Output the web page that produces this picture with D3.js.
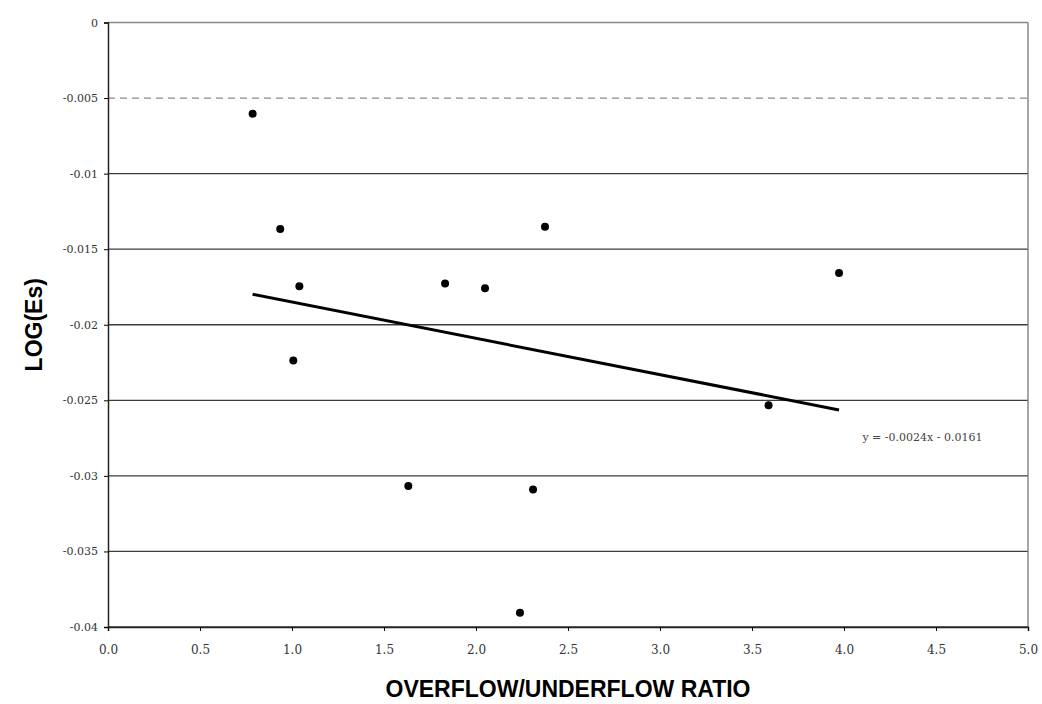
<!DOCTYPE html>
<html>
<head>
<meta charset="utf-8">
<script src="https://cdn.jsdelivr.net/npm/d3@7"></script>
<style>
    body { margin: 0; background: #fff; }
    text { font-family: "Liberation Sans", Arial, sans-serif; }
</style>
</head>
<body>
<svg id="chart" width="1042" height="704"></svg>
<script>
// overflow/underflow ratio and log(Es)
const ratioValues = [0.786, 0.936, 1.04, 1.007, 1.632, 1.832, 2.049, 2.375, 2.31, 2.239, 3.59, 3.973];
const logEsValues = [-0.00604, -0.01367, -0.01746, -0.02236, -0.03067, -0.01727, -0.01758, -0.01352, -0.0309, -0.03905, -0.02532, -0.01658];

const xTicks = [0, 0.5, 1, 1.5, 2, 2.5, 3, 3.5, 4, 4.5, 5];
const yTicks = [0, -0.005, -0.01, -0.015, -0.02, -0.025, -0.03, -0.035, -0.04];

// trend line printed on the chart
const trendSlope = -0.0024;
const trendIntercept = -0.0161;
const trendLabel = "y = -0.0024x - 0.0161";

function createAxis(svg, attr_area) {
    const scaleX = d3.scaleLinear()
        .domain([0, 5])
        .range([attr_area.left, attr_area.right]);

    const scaleY = d3.scaleLinear()
        .domain([-0.04, 0])
        .range([attr_area.bottom, attr_area.top]);

    // horizontal grid lines
    svg.append("g")
        .selectAll("line")
        .data(yTicks)
        .enter()
        .append("line")
        .attr("x1", attr_area.left)
        .attr("x2", attr_area.right)
        .attr("y1", d => scaleY(d))
        .attr("y2", d => scaleY(d))
        .attr("stroke", d => (d === 0 || d === -0.005) ? "#8a8a8a" : "#3c3c3c")
        .attr("stroke-dasharray", d => d === -0.005 ? "7,5" : null)
        .attr("stroke-width", 1.3);

    // right border
    svg.append("line")
        .attr("x1", attr_area.right).attr("x2", attr_area.right)
        .attr("y1", attr_area.top).attr("y2", attr_area.bottom)
        .attr("stroke", "#777")
        .attr("stroke-width", 1.3);

    const axisX = d3.axisBottom(scaleX)
        .tickValues(xTicks)
        .tickFormat(d3.format(".1f"))
        .tickSize(4)
        .tickPadding(14);

    const axisY = d3.axisLeft(scaleY)
        .tickValues(yTicks)
        .tickFormat(d => d === 0 ? "0" : String(d))
        .tickSize(4)
        .tickPadding(6);

    const gx = svg.append("g")
        .attr("transform", `translate(0, ${attr_area.bottom})`)
        .call(axisX);
    gx.select(".domain").attr("stroke", "#222").attr("stroke-width", 1.5);
    gx.selectAll("text").attr("font-size", 12).attr("fill", "#333")
        .style("font-family", "\"DejaVu Serif\", serif");

    const gy = svg.append("g")
        .attr("transform", `translate(${attr_area.left}, 0)`)
        .call(axisY);
    gy.select(".domain").attr("stroke", "#222").attr("stroke-width", 1.5);
    gy.selectAll("text").attr("font-size", 11).attr("fill", "#333")
        .style("font-family", "\"DejaVu Serif\", serif");

    return [scaleX, scaleY];
}

function createScatterChart(svg, scaleX, scaleY) {
    const data = ratioValues.map((x, i) => ({ x: x, y: logEsValues[i] }));

    svg.selectAll(".dot")
        .data(data)
        .enter()
        .append("circle")
        .attr("class", "dot")
        .attr("r", 4)
        .attr("cx", d => scaleX(d.x))
        .attr("cy", d => scaleY(d.y))
        .style("fill", "#000");
}

function createTrendLine(svg, scaleX, scaleY) {
    const [xMin, xMax] = d3.extent(ratioValues);
    const pts = [xMin, xMax].map(x => ({ x: x, y: trendSlope * x + trendIntercept }));

    const line = d3.line()
        .x(d => scaleX(d.x))
        .y(d => scaleY(d.y));

    svg.append("path")
        .datum(pts)
        .attr("fill", "none")
        .attr("stroke", "#000")
        .attr("stroke-width", 3)
        .attr("d", line);

    svg.append("text")
        .attr("x", scaleX(4.1))
        .attr("y", scaleY(-0.0277))
        .attr("font-size", 11)
        .attr("fill", "#444")
        .style("font-family", "\"DejaVu Serif\", serif")
        .text(trendLabel);
}

function drawGraph() {
    const svg = d3.select("#chart");
    svg.selectAll("*").remove();

    const attr_area = {
        left: 108,
        right: 1028,
        top: 22.5,
        bottom: 627
    };

    const [scX, scY] = createAxis(svg, attr_area);
    createTrendLine(svg, scX, scY);
    createScatterChart(svg, scX, scY);

    svg.append("text")
        .attr("x", 568)
        .attr("y", 697)
        .attr("text-anchor", "middle")
        .attr("font-size", 23)
        .attr("font-weight", "bold")
        .text("OVERFLOW/UNDERFLOW RATIO");

    svg.append("text")
        .attr("transform", `translate(42, ${(attr_area.top + attr_area.bottom) / 2}) rotate(-90)`)
        .attr("text-anchor", "middle")
        .attr("font-size", 23)
        .attr("font-weight", "bold")
        .text("LOG(Es)");
}

drawGraph();
</script>
</body>
</html>
